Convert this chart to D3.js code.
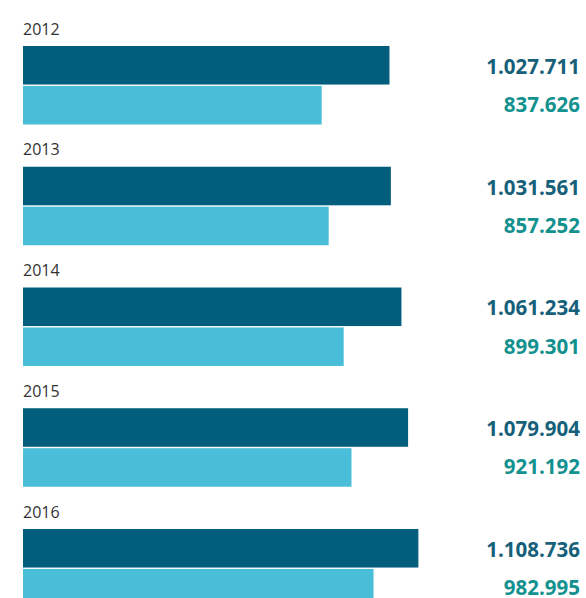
<!DOCTYPE html>
<html>
<head>
<meta charset="utf-8">
<script src="https://cdnjs.cloudflare.com/ajax/libs/d3/7.8.5/d3.min.js"></script>
<style>
  html, body { margin: 0; padding: 0; background: #fff; overflow: hidden; }
  svg { display: block; }
  text { font-family: "Open Sans", sans-serif; }
</style>
</head>
<body>
<div id="chart"></div>
<script>
(function () {
  'use strict';

  // data
  var years = ['2012', '2013', '2014', '2015', '2016'];
  var seriesA = [1027711, 1031561, 1061234, 1079904, 1108736];
  var seriesB = [837626, 857252, 899301, 921192, 982995];

  var width = 586;
  var height = 598;
  var step = 120.75;
  var top = 46;

  var fmt = d3.formatLocale({ decimal: ',', thousands: '.', grouping: [3], currency: ['', ''] }).format(',d');

  var x = d3.scaleLinear()
    .domain([0, 1200000])
    .range([23, 23 + 1200 * 0.3566]);

  var y = d3.scaleBand()
    .domain(years)
    .range([top, top + years.length * step]);

  var sub = d3.scaleBand()
    .domain(['a', 'b'])
    .range([0, 78.5])
    .paddingInner(0.035);

  var colors = { a: '#035e7d', b: '#4abed8' };
  var textColors = { a: '#16607a', b: '#12918f' };
  // baseline offset from bar middle
  var textShift = { a: 8.5, b: 7 };

  var svg = d3.select('#chart').append('svg')
    .attr('width', width)
    .attr('height', height);

  var rows = years.map(function (yr, i) {
    return { year: yr, a: seriesA[i], b: seriesB[i] };
  });

  var g = svg.selectAll('g.year').data(rows)
    .enter().append('g')
    .attr('class', 'year')
    .attr('transform', function (d) { return 'translate(0,' + y(d.year) + ')'; });

  g.append('text')
    .attr('x', 23)
    .attr('y', -11.5)
    .attr('fill', '#333')
    .style('font-size', '16px')
    .text(function (d) { return d.year; });

  ['a', 'b'].forEach(function (k) {
    g.append('rect')
      .attr('x', x(0))
      .attr('y', sub(k))
      .attr('width', function (d) { return x(d[k]) - x(0); })
      .attr('height', sub.bandwidth())
      .attr('fill', colors[k]);

    g.append('text')
      .attr('x', 580)
      .attr('y', sub(k) + sub.bandwidth() / 2 + textShift[k])
      .attr('text-anchor', 'end')
      .attr('fill', textColors[k])
      .style('font-size', '20.5px')
      .style('font-weight', 700)
      .text(function (d) { return fmt(d[k]); });
  });
})();
</script>
</body>
</html>
